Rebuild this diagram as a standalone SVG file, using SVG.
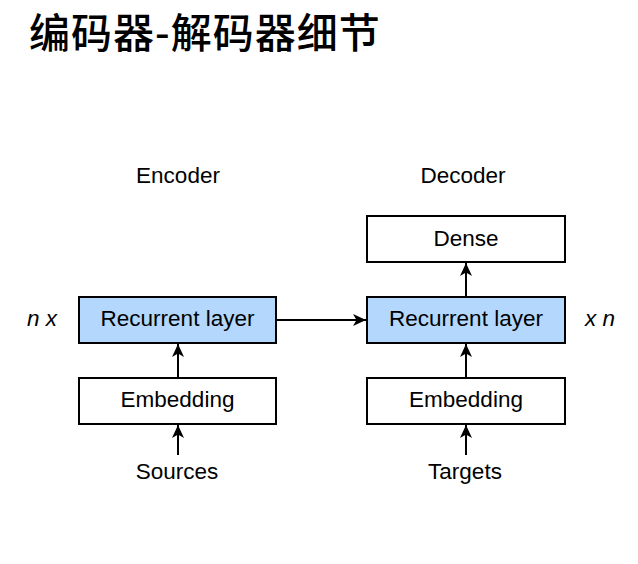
<svg xmlns="http://www.w3.org/2000/svg" width="638" height="564" viewBox="0 0 638 564">
<defs>
<marker id="arr" markerUnits="userSpaceOnUse" markerWidth="16" markerHeight="14" refX="13" refY="6" orient="auto">
<path d="M0,0 L13,6 L0,12 L3.5,6 Z" fill="#000"/>
</marker>
<style>
.t{font-family:"Liberation Sans",Arial,sans-serif;font-size:22.5px;fill:#000;text-anchor:middle}
.i{font-style:italic;text-anchor:start}
.box{stroke:#000;stroke-width:2;fill:#fff}
.blue{fill:#b3d7fd}
.c{stroke:#000;stroke-width:2;fill:none;marker-end:url(#arr)}
</style>
</defs>
<rect width="638" height="564" fill="#fff"/>
<text x="29" y="48" style="font-family:'Noto Sans CJK SC',sans-serif;font-size:41px;font-weight:500;letter-spacing:1px" fill="#000">编码器-解码器细节</text>
<text class="t" x="178" y="183">Encoder</text>
<text class="t" x="463" y="183">Decoder</text>
<text class="t i" x="27" y="326">n x</text>
<text class="t i" x="585" y="326">x n</text>
<g id="enc-rnn"><rect class="box blue" x="79" y="297" width="197" height="46"/><text class="t" x="177.5" y="326">Recurrent layer</text></g>
<g id="enc-emb"><rect class="box" x="79" y="378" width="197" height="46"/><text class="t" x="177.5" y="407">Embedding</text></g>
<g id="sources"><text class="t" x="177" y="479">Sources</text></g>
<g id="dense"><rect class="box" x="367" y="216" width="198" height="46"/><text class="t" x="466" y="246">Dense</text></g>
<g id="dec-rnn"><rect class="box blue" x="367" y="297" width="198" height="46"/><text class="t" x="466" y="326">Recurrent layer</text></g>
<g id="dec-emb"><rect class="box" x="367" y="378" width="198" height="46"/><text class="t" x="466" y="407">Embedding</text></g>
<g id="targets"><text class="t" x="465" y="479">Targets</text></g>
<g id="connectors">
<line class="c" x1="178" y1="455" x2="178" y2="425"/>
<line class="c" x1="178" y1="378" x2="178" y2="344"/>
<line class="c" x1="276" y1="320" x2="366" y2="320"/>
<line class="c" x1="466" y1="455" x2="466" y2="425"/>
<line class="c" x1="466" y1="378" x2="466" y2="344"/>
<line class="c" x1="466" y1="297" x2="466" y2="263"/>
</g>
</svg>
